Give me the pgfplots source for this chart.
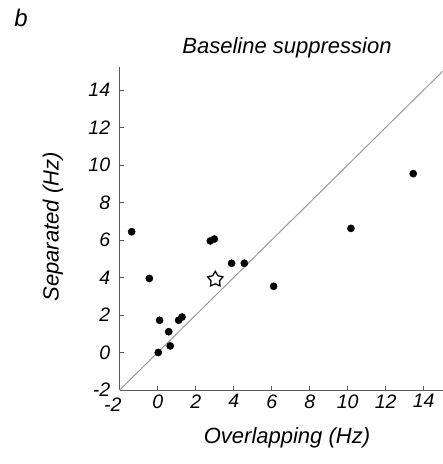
\documentclass[border=0pt]{standalone}
\usepackage{fontspec}
\setmainfont{Liberation Sans}
\usepackage{pgfplots}
\pgfplotsset{compat=1.18}
\begin{document}
\begin{tikzpicture}[x=1pt,y=1pt]
\path[use as bounding box] (0,0) rectangle (443,464);
\begin{axis}[
  at={(119.7pt,74pt)}, anchor=south west,
  scale only axis, width=323pt, height=322.5pt,
  xmin=-2, xmax=15, ymin=-2, ymax=15.2,
  axis lines*=left,
  axis line style={black!65, line width=0.9pt},
  xtick={0,2,...,14}, ytick={-2,0,...,14},
  extra x ticks={-2},
  extra x tick style={xticklabel style={xshift=-7pt, yshift=-3pt}},
  tick align=inside, major tick length=4pt,
  tick style={black!65, line width=0.6pt},
  ticklabel style={font=\fontsize{19.5}{22}\selectfont\itshape},
  xticklabel style={yshift=-1pt},
  yticklabel style={xshift=-6pt},
  /pgf/number format/assume math mode=true,
  clip=false,
]
\addplot[black!40, line width=1pt, forget plot] coordinates {(-2,-2) (15,15)};
\addplot[only marks, mark=*, mark size=3.6pt, black] coordinates {
(-1.37,6.44) (-0.44,3.95) (0.1,1.72) (0.03,0.0) (0.58,1.11) (0.66,0.35)
(1.1,1.72) (1.28,1.89) (2.77,5.95) (2.98,6.05) (3.89,4.76) (4.56,4.76)
(6.1,3.53) (10.17,6.62) (13.45,9.54)
};
\addplot[only marks, black, mark=*, mark size=0pt,
  scatter,
  scatter/@pre marker code/.code={\draw[black,line width=1.3pt,fill=white] (90:8pt)
  -- (126:4.5pt) -- (162:8pt) -- (198:4.5pt) -- (234:8pt) -- (270:4.5pt) -- (306:8pt) -- (342:4.5pt) -- (18:8pt) -- (54:4.5pt) -- cycle;},
  scatter/@post marker code/.code={}] coordinates {(3.03,3.9)};
\end{axis}
\node[font=\fontsize{24}{28}\selectfont\itshape] at (21,446) {b};
\node[font=\fontsize{22}{26}\selectfont\itshape] at (287,416) {Baseline suppression};
\node[font=\fontsize{22}{26}\selectfont\itshape] at (287,26) {Overlapping (Hz)};
\node[font=\fontsize{22}{26}\selectfont\itshape, rotate=90] at (53,237) {Separated (Hz)};
\end{tikzpicture}
\end{document}
